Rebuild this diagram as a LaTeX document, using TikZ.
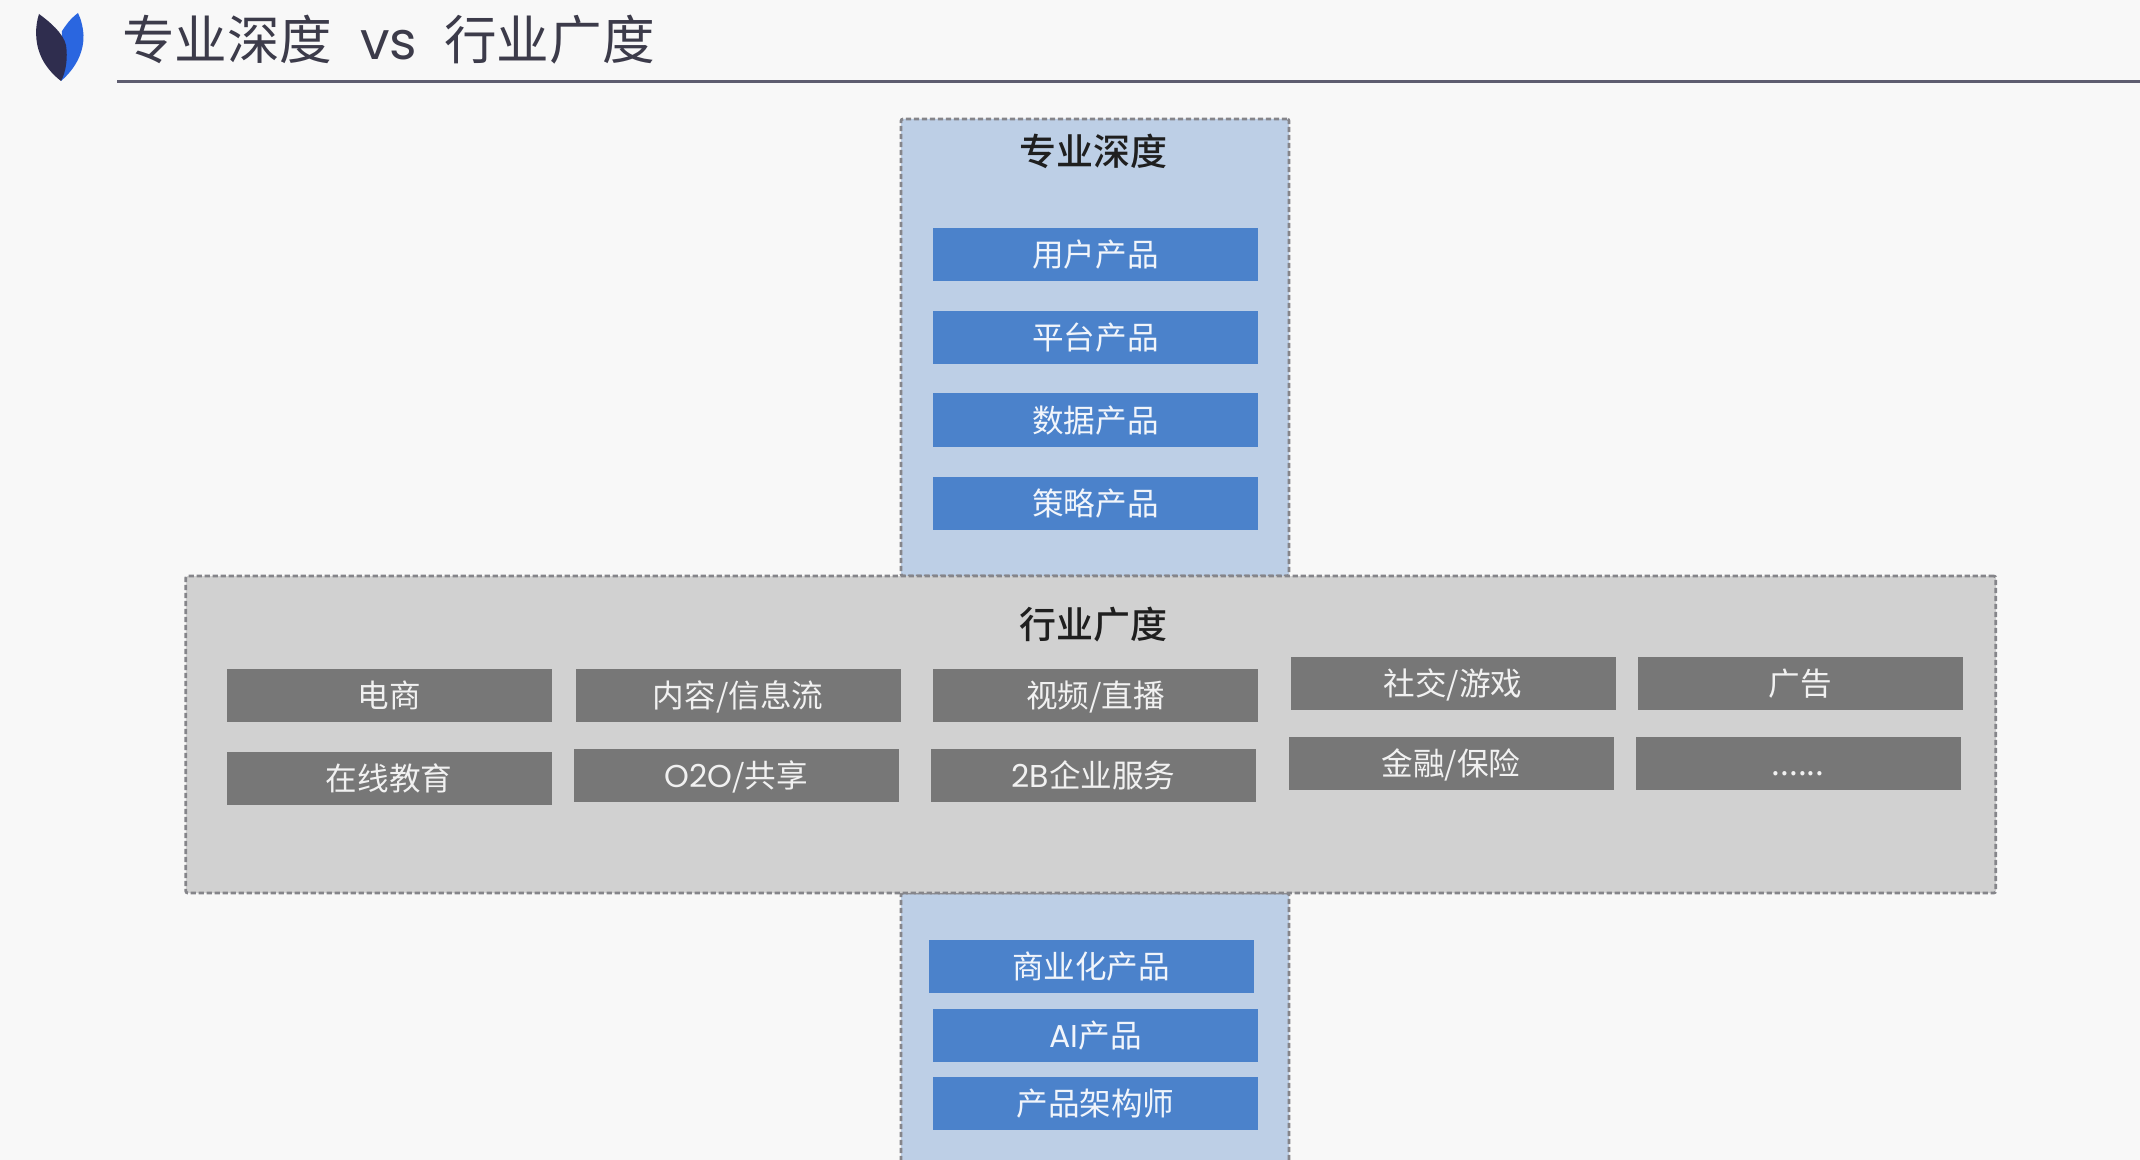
\documentclass[tikz,border=0pt]{standalone}
\usepackage{fontspec}
\setmainfont{Noto Sans CJK SC}
\newfontfamily\latfont{Poppins}
\newfontfamily\medfont{Noto Sans CJK SC Medium}
\definecolor{pagebg}{HTML}{F8F8F8}
\definecolor{panelblue}{HTML}{BDCFE6}
\definecolor{chipblue}{HTML}{4B82CB}
\definecolor{panelgrey}{HTML}{D1D1D1}
\definecolor{chipgrey}{HTML}{777777}
\definecolor{dashgrey}{HTML}{85858A}
\definecolor{titleink}{HTML}{3C3B4A}
\definecolor{ruleink}{HTML}{5E5D70}
\definecolor{leafdark}{HTML}{2F2D4E}
\definecolor{leafblue}{HTML}{2A66E0}
\tikzset{
  panel/.style={draw=dashgrey,line width=1.4pt,dash pattern=on 2.6pt off 1.4pt,rounded corners=1pt,inner sep=0pt,outer sep=0pt},
  panelb/.style={panel,fill=panelblue,minimum width=194pt},
  chip/.style={inner sep=0pt,outer sep=0pt,minimum width=162.5pt,minimum height=26.5pt,text height=14pt,text depth=2pt,font=\fontsize{15.8}{18}\selectfont},
  chipb/.style={chip,fill=chipblue,text=white!92!chipblue},
  chipg/.style={chip,fill=chipgrey,text=white!90!chipgrey},
  headline/.style={inner sep=0pt,outer sep=0pt,text=black!88,font=\fontsize{18.5}{22}\selectfont\medfont}
}
\begin{document}
\begin{tikzpicture}[x=0.5pt,y=-0.5pt]
\useasboundingbox (0,0) rectangle (2140,1160);
\clip (0,0) rectangle (2140,1160);
\fill[pagebg] (0,0) rectangle (2140,1160);
% logo
\fill[leafblue] (78,13) .. controls (70,19) and (66,25) .. (62,31) -- (61,81) .. controls (76,68) and (84,52) .. (83.5,35) .. controls (83,27) and (81,19) .. (78,13) -- cycle;
\fill[leafdark] (39,14) .. controls (35,26) and (35,42) .. (40,54) .. controls (44,65) and (53,75) .. (61,81) .. controls (66,72) and (68,58) .. (66,45) .. controls (63,33) and (50,22) .. (39,14) -- cycle;
% title
\node[inner sep=0pt,outer sep=0pt,anchor=west,text=titleink,font=\fontsize{26.3}{30}\selectfont] (maintitle) at (122,39.5) {专业深度\hspace{14pt}{\latfont vs}\hspace{13.5pt}行业广度};
\coordinate (ruleL) at (117,81.5);
\coordinate (ruleR) at (2140,81.5);
\draw[ruleink,line width=1.6pt] (ruleL) -- (ruleR);
% panels
\node[panelb,minimum height=228.5pt] (depthtop) at (1095,347.5) {};
\node[panelb,minimum height=142pt] (depthbot) at (1095,1035) {};
\node[panel,fill=panelgrey,minimum width=905pt,minimum height=158.5pt] (breadth) at (1090.75,734.5) {};
\node[headline] (depthtitle) at (1093,151) {专业深度};
\node[headline] (breadthtitle) at (1093,625) {行业广度};
% blue chips
\node[chipb] (a1) at (1095.5,255) {用户产品};
\node[chipb] (a2) at (1095.5,338) {平台产品};
\node[chipb] (a3) at (1095.5,420) {数据产品};
\node[chipb] (a4) at (1095.5,503) {策略产品};
\node[chipb] (b1) at (1091,966.5) {商业化产品};
\node[chipb] (b2) at (1095.5,1035) {{\latfont AI}产品};
\node[chipb] (b3) at (1095.5,1103) {产品架构师};
% grey chips
\node[chipg] (g1) at (389,695.5) {电商};
\node[chipg] (g2) at (738,695.5) {内容/信息流};
\node[chipg] (g3) at (1095.5,695.5) {视频/直播};
\node[chipg] (g4) at (1453,683.5) {社交/游戏};
\node[chipg] (g5) at (1800,683.5) {广告};
\node[chipg] (g6) at (389,778.5) {在线教育};
\node[chipg] (g7) at (736,775.5) {{\latfont O2O}/共享};
\node[chipg] (g8) at (1093.5,775.5) {{\latfont 2B}企业服务};
\node[chipg] (g9) at (1451,763.5) {金融/保险};
\node[chipg] (g10) at (1798,763.5) {......};
\end{tikzpicture}
\end{document}
